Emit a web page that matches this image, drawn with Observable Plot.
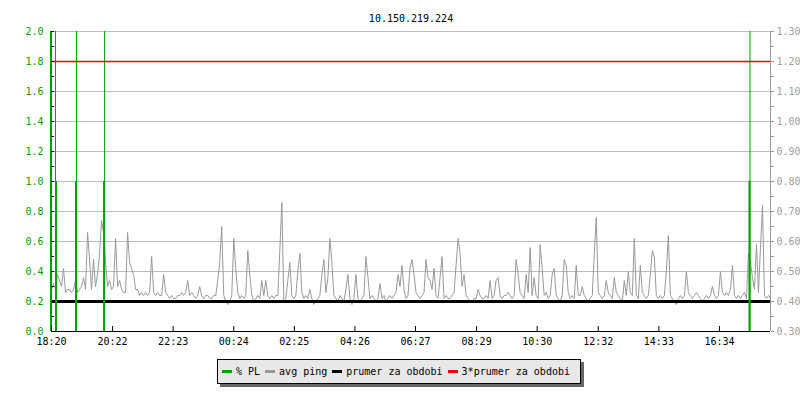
<!DOCTYPE html>
<html><head><meta charset="utf-8">
<script src="https://cdn.jsdelivr.net/npm/d3@7"></script>
<script src="https://cdn.jsdelivr.net/npm/@observablehq/plot@0.6"></script>
<style>
body{margin:0;background:#fff;}
#wrap{position:relative;width:800px;height:400px;}
#legend{position:absolute;left:217px;top:359px;width:364px;height:25px;box-sizing:border-box;border:1px solid #000;background:#e8e8e8;box-shadow:3px 3px 0 #666;display:flex;align-items:center;padding-left:4px;font:10px "DejaVu Sans Mono",monospace;color:#000;white-space:pre;}
.sw{display:inline-block;width:10px;height:3px;margin-right:4px;}
.it{display:flex;align-items:center;margin-right:5px;}
</style></head><body><div id="wrap"></div>
<script>
const title = "10.150.219.224";
const leftTicks = [0, 0.2, 0.4, 0.6, 0.8, 1.0, 1.2, 1.4, 1.6, 1.8, 2.0];
const rightTickLabels = ["0.30","0.40","0.50","0.60","0.70","0.80","0.90","1.00","1.10","1.20","1.30"];
const rightMin = 0.3, rightMax = 1.3;
const xTickLabels = ["18:20","20:22","22:23","00:24","02:25","04:26","06:27","08:29","10:30","12:32","14:33","16:34"];
const startClock = "18:20";
const sampleMinutes = 4;
const pingValues = [
0.44,0.46,0.44,0.49,0.47,0.45,0.51,0.43,0.44,0.44,
0.43,0.44,0.47,0.43,0.44,0.45,0.48,0.44,0.63,0.54,
0.44,0.54,0.45,0.49,0.56,0.67,0.63,0.53,0.45,0.47,
0.44,0.45,0.61,0.45,0.47,0.44,0.43,0.43,0.63,0.53,
0.51,0.49,0.44,0.44,0.42,0.43,0.42,0.43,0.42,0.43,
0.55,0.43,0.42,0.43,0.42,0.42,0.49,0.43,0.42,0.41,
0.42,0.41,0.41,0.42,0.42,0.43,0.42,0.43,0.47,0.42,
0.43,0.42,0.41,0.42,0.45,0.42,0.41,0.42,0.42,0.41,
0.41,0.42,0.42,0.47,0.53,0.65,0.42,0.40,0.39,0.40,
0.42,0.61,0.51,0.43,0.41,0.42,0.41,0.42,0.57,0.49,
0.42,0.40,0.41,0.42,0.41,0.47,0.42,0.47,0.42,0.41,
0.42,0.41,0.42,0.42,0.57,0.73,0.40,0.41,0.47,0.53,
0.42,0.41,0.42,0.50,0.56,0.43,0.41,0.42,0.41,0.44,
0.41,0.39,0.40,0.41,0.42,0.49,0.54,0.43,0.48,0.61,
0.53,0.42,0.41,0.40,0.42,0.41,0.40,0.44,0.49,0.41,
0.39,0.41,0.49,0.41,0.40,0.41,0.42,0.55,0.48,0.41,
0.42,0.41,0.40,0.41,0.46,0.41,0.42,0.40,0.41,0.42,
0.41,0.42,0.43,0.49,0.45,0.52,0.44,0.41,0.42,0.51,
0.54,0.49,0.43,0.42,0.41,0.42,0.43,0.54,0.48,0.47,
0.44,0.51,0.42,0.41,0.48,0.55,0.41,0.42,0.41,0.41,
0.42,0.43,0.52,0.61,0.56,0.45,0.49,0.42,0.41,0.40,
0.40,0.41,0.41,0.44,0.42,0.41,0.41,0.42,0.41,0.47,
0.41,0.42,0.47,0.48,0.42,0.41,0.42,0.42,0.43,0.42,
0.41,0.42,0.54,0.49,0.43,0.42,0.41,0.49,0.43,0.58,
0.42,0.48,0.42,0.41,0.59,0.51,0.42,0.43,0.41,0.42,
0.49,0.51,0.42,0.41,0.40,0.42,0.54,0.52,0.43,0.41,
0.42,0.41,0.52,0.42,0.42,0.45,0.42,0.41,0.40,0.41,
0.42,0.56,0.68,0.43,0.42,0.41,0.42,0.47,0.43,0.42,
0.41,0.48,0.43,0.42,0.41,0.40,0.47,0.42,0.50,0.43,
0.42,0.61,0.42,0.41,0.52,0.43,0.42,0.41,0.42,0.49,
0.57,0.55,0.42,0.41,0.42,0.41,0.42,0.50,0.62,0.42,
0.41,0.40,0.39,0.41,0.42,0.41,0.42,0.50,0.43,0.42,
0.41,0.42,0.43,0.42,0.41,0.40,0.41,0.42,0.41,0.42,
0.45,0.42,0.41,0.42,0.50,0.43,0.42,0.43,0.42,0.44,
0.52,0.42,0.41,0.42,0.41,0.42,0.43,0.41,0.56,0.53,
0.48,0.44,0.59,0.43,0.58,0.72,0.42,0.41,0.42,0.41
];
const meanPing = 0.40;
const plBarMinutes = [10, 50, 106, 1395];
const plBarValues = [1, 1, 1, 1];
const plSpikeMinutes = [8, 50, 106, 1395];
const plSpikeValues = [2, 2, 2, 2];
const seriesNames = ["% PL", "avg ping", "prumer za obdobi", "3*prumer za obdobi"];
const seriesColors = ["#00a000", "#999999", "#000000", "#ff0000"];

const green = seriesColors[0];
const toLeft = v => (v - rightMin) / (rightMax - rightMin) * leftTicks[leftTicks.length - 1];
const clockMin = s => { const [h, m] = s.split(":").map(Number); return h * 60 + m; };
const xTickMinutes = xTickLabels.map(s => (clockMin(s) - clockMin(startClock) + 1440) % 1440);
const xDomain = [0, (pingValues.length - 1) * sampleMinutes];
const pingData = pingValues.map((v, i) => ({t: i * sampleMinutes, y: toLeft(v)}));
const plBars = plBarMinutes.map((t, i) => ({t, v: plBarValues[i]}));
const plSpikes = plSpikeMinutes.map((t, i) => ({t, v: plSpikeValues[i]}));
const minorTicks = d3.range(0, 20.5, 1).map(d => d / 10);
const rightLabel = d => { const i = leftTicks.findIndex(t => Math.abs(t - d) < 1e-9); return i >= 0 ? rightTickLabels[i] : ""; };
const meanLines = [{v: toLeft(meanPing)}];
const tripleLines = [{v: toLeft(3 * meanPing)}];

const chart = Plot.plot({
  width: 800, height: 400, marginLeft: 51, marginRight: 30, marginTop: 31, marginBottom: 69,
  x: {domain: xDomain, label: null},
  y: {domain: [0, 2], label: null},
  style: {fontFamily: '"DejaVu Sans Mono", monospace', fontSize: "10px", background: "#fff", color: "#000"},
  marks: [
    Plot.gridY(leftTicks.filter(d => d > 0), {stroke: "#bdbdbd", strokeOpacity: 1}),
    Plot.line(pingData, {x: "t", y: "y", stroke: seriesColors[1], strokeWidth: 1}),
    Plot.ruleY(meanLines, {y: "v", stroke: seriesColors[2], strokeWidth: 3}),
    Plot.ruleX(plSpikes, {x: "t", y1: 0, y2: "v", stroke: green, strokeWidth: 1}),
    Plot.ruleX(plBars, {x: "t", y1: 0, y2: "v", stroke: green, strokeWidth: 2, dx: -0.5}),
    Plot.ruleX([xDomain[0]], {stroke: green, strokeWidth: 2, dx: -0.5}),
    Plot.ruleY(tripleLines, {y: "v", stroke: seriesColors[3], strokeWidth: 1.4}),
    Plot.ruleY([0], {stroke: "#000"}),
    Plot.ruleX([xDomain[1]], {stroke: "#999"}),
    Plot.tickY(minorTicks, {y: d => d, stroke: "#000", insetRight: 716}),
    Plot.tickX(xTickMinutes, {x: d => d, stroke: "#000", insetTop: 295}),
    Plot.axisY(leftTicks, {anchor: "left", tickSize: 0, tickPadding: 8, tickFormat: d => d.toFixed(1), fill: green, label: null}),
    Plot.axisY(minorTicks, {anchor: "right", tickSize: 3, tickPadding: 3, stroke: "#999", fill: "#a0a0a0", tickFormat: rightLabel, label: null}),
    Plot.axisX(xTickMinutes, {anchor: "bottom", tickSize: 0, tickPadding: 6, tickFormat: d => xTickLabels[xTickMinutes.indexOf(d)], fill: "#000", label: null}),
    Plot.text([title], {text: d => d, frameAnchor: "top", dy: -17, fill: "#000"})
  ]
});
const wrap = document.getElementById("wrap");
wrap.appendChild(chart);
const legend = document.createElement("div");
legend.id = "legend";
seriesNames.forEach((name, i) => {
  const it = document.createElement("span");
  it.className = "it";
  const sw = document.createElement("span");
  sw.className = "sw";
  sw.style.background = seriesColors[i];
  it.appendChild(sw);
  it.appendChild(document.createTextNode(name));
  legend.appendChild(it);
});
wrap.appendChild(legend);
</script></body></html>
